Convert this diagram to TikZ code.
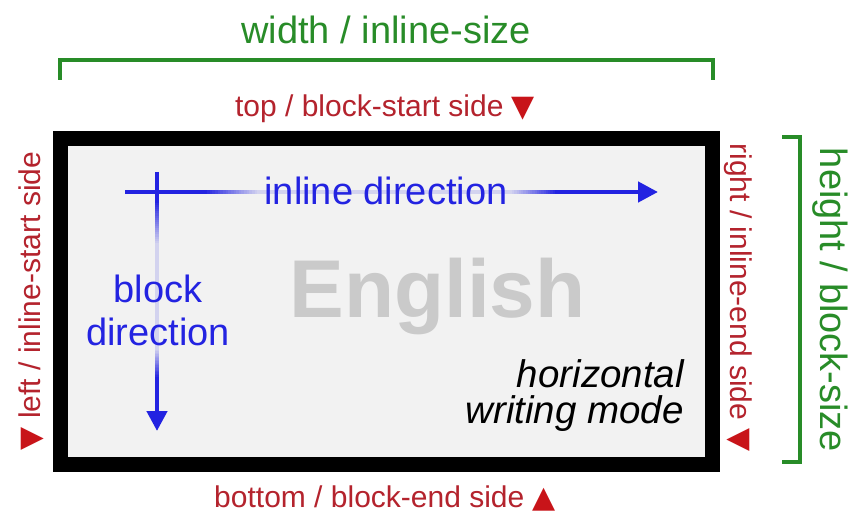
\documentclass[tikz,border=0pt]{standalone}
\usepackage{fontspec}
\setmainfont{Liberation Sans}
\newfontfamily\symfont{DejaVu Sans}
\usetikzlibrary{arrows.meta}
\definecolor{grn}{RGB}{40,140,40}
\definecolor{sidered}{RGB}{180,35,45}
\definecolor{trired}{RGB}{200,20,25}
\definecolor{dirblue}{RGB}{35,35,225}
\definecolor{boxbg}{RGB}{242,242,242}
\definecolor{engray}{RGB}{202,202,202}
\newcommand\tri[1]{{\symfont\textcolor{trired}{#1}}}
\begin{document}
\begin{tikzpicture}[x=1pt,y=-1pt,
  sidelbl/.style={font=\fontsize{30}{36}\selectfont, text=sidered, inner sep=0pt},
  sizelbl/.style={font=\fontsize{38}{44}\selectfont, text=grn, inner sep=0pt},
  dirlbl/.style={font=\fontsize{38}{44}\selectfont, text=dirblue, inner sep=0pt},
  modelbl/.style={font=\itshape\fontsize{38.5}{44}\selectfont, text=black, inner sep=0pt},
  bracket/.style={draw=grn, line width=4pt},
  dirarrow/.style={draw=dirblue, line width=4.5pt, -{Triangle[length=20pt,width=20pt]}},
  fadeseg/.style={line width=4.6pt}]
\useasboundingbox (0,0) rectangle (855,513);
\fill[white] (0,0) rectangle (855,513);
% box
\node[draw=black, line width=15pt, fill=boxbg, minimum width=652pt, minimum height=326pt, inner sep=0pt] (box) at (386.5,301.5) {};
% width bracket
\node[sizelbl, anchor=base] (wlbl) at (386,44) {width / inline-size};
\draw[bracket] (60,80) -- (60,60) -- (713,60) -- (713,80);
% height bracket
\draw[bracket] (782,137) -- (800,137) -- (800,462) -- (782,462);
\node[sizelbl, rotate=-90, anchor=base] (hlbl) at (820,300) {height / block-size};
% side labels
\node[sidelbl, anchor=base] (toplbl) at (385,117) {top / block-start side \tri{▼}};
\node[sidelbl, anchor=base] (botlbl) at (385,507) {bottom / block-end side \tri{▲}};
\node[sidelbl, rotate=90, anchor=base] (leftlbl) at (41,301) {\tri{▼} left / inline-start side};
\node[sidelbl, rotate=-90, anchor=base] (rightlbl) at (730,297.5) {right / inline-end side \tri{▼}};
% English
\node[font=\bfseries\fontsize{82}{90}\selectfont, text=engray, inner sep=0pt, anchor=base] (eng) at (437.5,318) {English};
% arrows
\coordinate (hs) at (125,192);
\coordinate (he) at (658,192);
\coordinate (vs) at (157,172);
\coordinate (ve) at (157,431);
\draw[dirarrow] (hs) -- (he);
\draw[dirarrow] (vs) -- (ve);
% fades behind text
\draw[fadeseg, dirblue!15!boxbg] (259,192) -- (513,192);
\draw[fadeseg, dirblue!15!boxbg] (157,244) -- (157,351);
\foreach \i in {0,...,19} {
  \pgfmathtruncatemacro\p{100-85*(\i+1)/20}
  \pgfmathtruncatemacro\q{15+85*(\i+1)/20}
  \draw[fadeseg, dirblue!\p!boxbg] ({207+2.65*\i},192) -- ({210+2.65*\i},192);
  \draw[fadeseg, dirblue!\q!boxbg] ({512+2.25*\i},192) -- ({514.6+2.25*\i},192);
  \draw[fadeseg, dirblue!\p!boxbg] (157,{203+2.1*\i}) -- (157,{205.4+2.1*\i});
  \draw[fadeseg, dirblue!\q!boxbg] (157,{350+1.4*\i}) -- (157,{351.7+1.4*\i});
}
\node[dirlbl, anchor=base] (inl) at (386,205) {inline direction};
\node[dirlbl, anchor=base] (blk1) at (158,303) {block};
\node[dirlbl, anchor=base] (blk2) at (158,345) {direction};
% writing mode
\node[modelbl, anchor=base east] (hm1) at (684,388) {horizontal};
\node[modelbl, anchor=base east] (hm2) at (684,424) {writing mode};
\end{tikzpicture}
\end{document}
